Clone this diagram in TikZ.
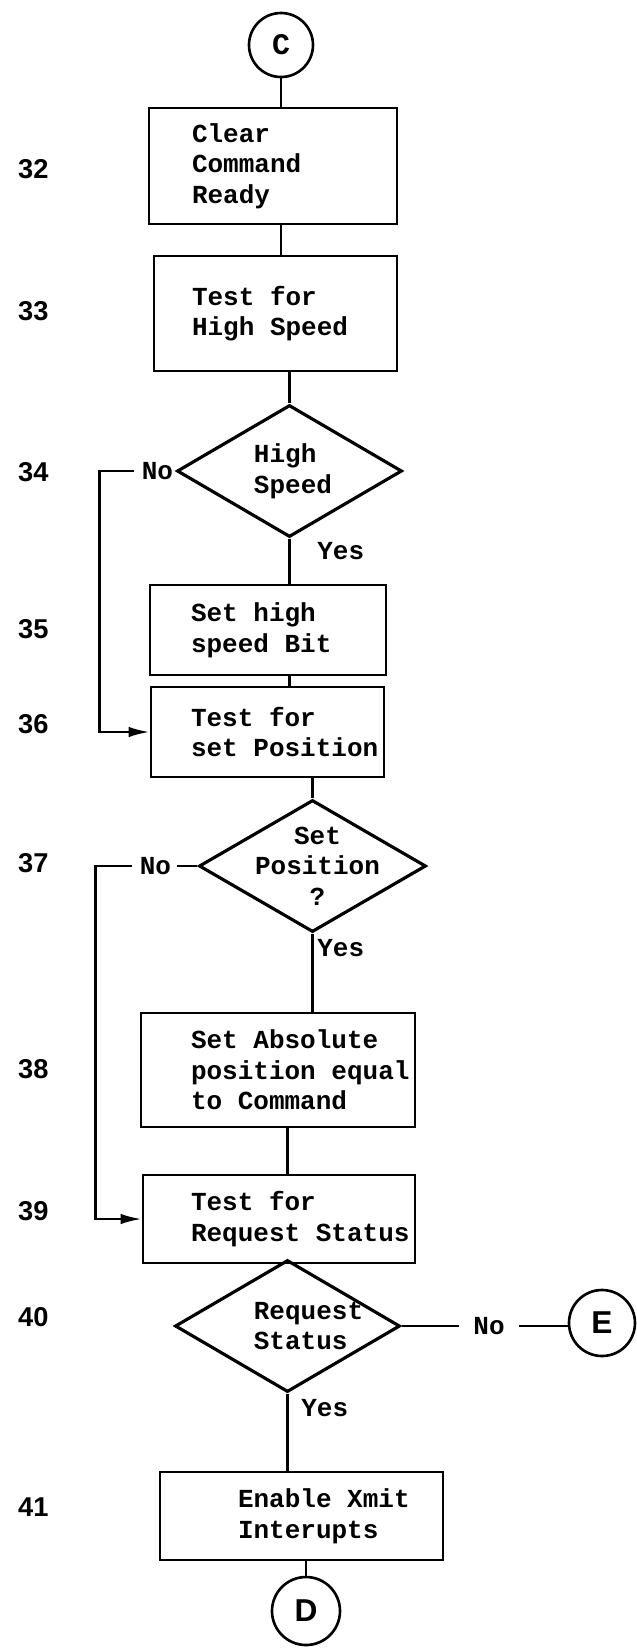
\documentclass[tikz,border=0pt]{standalone}
\usepackage{fontspec}
\setsansfont{Liberation Sans}
\setmonofont{Liberation Mono}[HyphenChar=None, WordSpace={1,0,0}]
\usepackage{tikz}
\usetikzlibrary{arrows.meta,positioning,shapes.geometric}

% typed text: fixed pitch, one full cell per space
\newcommand{\typed}{\ttfamily\bfseries\fontsize{14.8}{17.4}\selectfont\spaceskip=0.6em\relax}

\begin{document}
\begin{tikzpicture}[
  stepbox/.style={draw, line width=1.6pt, inner sep=0pt, align=flush left, font=\typed},
  decision/.style={diamond, draw, line width=1.8pt, inner sep=0pt},
  dtext/.style={align=flush left, inner sep=0pt, font=\typed},
  connector/.style={draw, circle, line width=1.5pt, inner sep=0pt},
  flowline/.style={line width=1.4pt},
  arr/.style={flowline, -{Latex[length=12pt, width=6pt]}},
  steplabel/.style={font=\sffamily\bfseries\fontsize{15.5}{18}\selectfont, anchor=west},
  branch/.style={font=\typed, inner sep=0pt},
]
\useasboundingbox (0,0) rectangle (12.74,-32.98);

% ===== entry connector =====
\node[connector, minimum size=1.28cm, font=\ttfamily\bfseries\fontsize{17}{20}\selectfont]
  (pageC) at (5.62,-0.90) {C};

% ===== steps 32 - 36 =====
\node[stepbox, minimum width=4.96cm, minimum height=2.32cm, text width=3.24cm]
  (b32) at (5.46,-3.32) {Clear\\Command\\Ready};
\node[stepbox, minimum width=4.86cm, minimum height=2.30cm, text width=3.34cm]
  (b33) at (5.51,-6.27) {Test for\\High~Speed};
\node[decision, minimum width=4.50cm, minimum height=2.64cm,
  label={[dtext, xshift=0.07cm]center:High\\Speed}] (d34) at (5.79,-9.42) {};
\node[stepbox, minimum width=4.72cm, minimum height=1.80cm, text width=3.08cm]
  (b35) at (5.36,-12.60) {Set high\\speed Bit};
\node[stepbox, minimum width=4.66cm, minimum height=1.80cm, text width=3.06cm]
  (b36) at (5.35,-14.64) {Test for\\set~Position};

% ===== steps 37 - 39 =====
\node[decision, minimum width=4.54cm, minimum height=2.64cm,
  label={[dtext, align=center, xshift=0.1cm]center:Set\\Position\\?}] (d37) at (6.25,-17.32) {};
\node[stepbox, minimum width=5.48cm, minimum height=2.28cm, text width=3.48cm]
  (b38) at (5.56,-21.40) {Set~Absolute\\position~equal\\to Command};
\node[stepbox, minimum width=5.44cm, minimum height=1.76cm, text width=3.52cm]
  (b39) at (5.58,-24.38) {Test for\\Request~Status};

% ===== steps 40 - 41 =====
\node[decision, minimum width=4.50cm, minimum height=2.64cm,
  label={[dtext, xshift=0.42cm]center:Request\\Status}] (d40) at (5.75,-26.52) {};
\node[stepbox, minimum width=5.66cm, minimum height=1.76cm, text width=2.54cm]
  (b41) at (6.03,-30.32) {Enable~Xmit\\Interupts};

% ===== exit connectors =====
\node[connector, minimum size=1.32cm, font=\sffamily\bfseries\fontsize{18}{20}\selectfont]
  (pageE) at (12.04,-26.46) {E};
\node[connector, minimum size=1.36cm, font=\sffamily\bfseries\fontsize{18}{20}\selectfont]
  (pageD) at (6.12,-32.22) {D};

% ===== step numbers =====
\node[steplabel] (n32) at (0.24,-3.38) {32};
\node[steplabel] (n33) at (0.24,-6.22) {33};
\node[steplabel] (n34) at (0.24,-9.44) {34};
\node[steplabel] (n35) at (0.24,-12.58) {35};
\node[steplabel] (n36) at (0.24,-14.48) {36};
\node[steplabel] (n37) at (0.24,-17.26) {37};
\node[steplabel] (n38) at (0.24,-21.38) {38};
\node[steplabel] (n39) at (0.24,-24.22) {39};
\node[steplabel] (n40) at (0.24,-26.34) {40};
\node[steplabel] (n41) at (0.24,-30.14) {41};

% ===== main flow =====
\draw[flowline] (pageC) -- (pageC |- b32.north);
\draw[flowline] (b32.south -| pageC) -- (b33.north -| pageC);
\draw[flowline] (b33.south -| d34) -- (d34);
\draw[flowline] (d34) -- (d34 |- b35.north);
\draw[flowline] (b35.south -| d34) -- (b36.north -| d34);
\draw[flowline] (b36.south -| d37) -- (d37);
\draw[flowline] (d37) -- (d37 |- b38.north);
\draw[flowline] (b38.south -| d40) -- (b39.north -| d40);
\draw[flowline] (d40) -- (d40 |- b41.north);
\draw[flowline] (b41.south -| pageD) -- (pageD);

% ===== yes labels =====
\node[branch, anchor=north west] (yes34) at ([xshift=0.55cm, yshift=-0.06cm]d34.south) {Yes};
\node[branch, anchor=north west] (yes37) at ([xshift=0.09cm, yshift=-0.10cm]d37.south) {Yes};
\node[branch, anchor=north west] (yes40) at ([xshift=0.27cm, yshift=-0.10cm]d40.south) {Yes};

% ===== no branches =====
\node[branch, left=0.04cm of d34] (no34) {No};
\draw[arr] ([xshift=-0.16cm]no34.west) -- ++(-0.68,0) |- (b36.west);

\node[branch, left=0.52cm of d37] (no37) {No};
\draw[flowline] (d37.west) -- ([xshift=0.12cm]no37.east);
\draw[arr] ([xshift=-0.16cm]no37.west) -- ++(-0.72,0) |- (b39.west);

\node[branch, inner xsep=8pt] (no40) at (9.78,-26.52) {No};
\draw[flowline] (d40.east) -- (no40.west);
\draw[flowline] (no40.east) -- (no40.east -| pageE.west);

\end{tikzpicture}
\end{document}
